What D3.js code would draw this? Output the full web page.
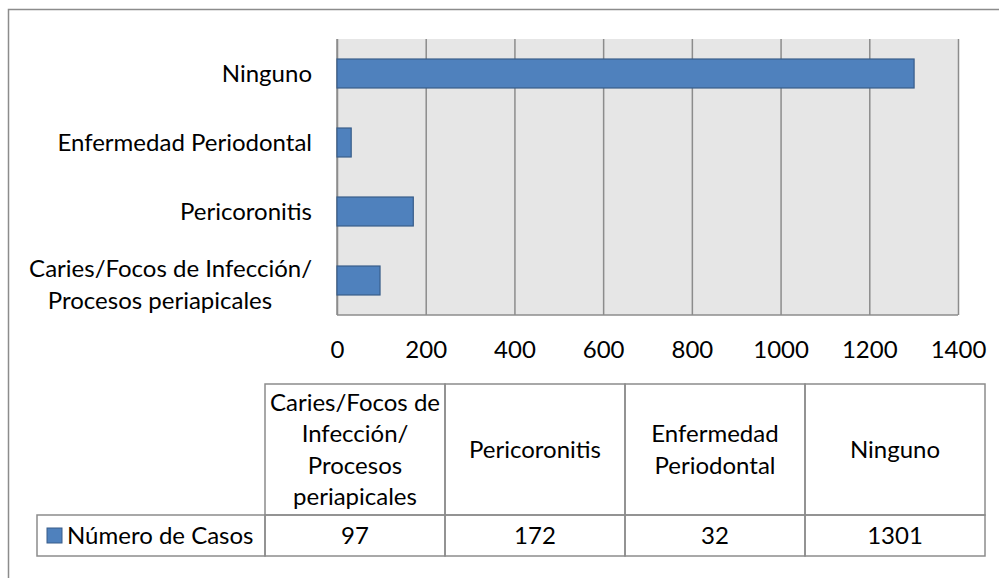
<!DOCTYPE html>
<html>
<head>
<meta charset="utf-8">
<title>Número de Casos</title>
<style type="text/css">
	body { margin: 0; background: #fff; }
	svg text { font-family: Lato, "Open Sans", sans-serif; font-size: 24px; fill: #000; }
	.grid line { stroke: #8c8c8c; stroke-width: 1.5px; }
	.grid path { display: none; }
	.x.axis path, .x.axis line { display: none; }
	.cell { fill: none; stroke: #8c8c8c; stroke-width: 1.5px; }
</style>
<script src="https://d3js.org/d3.v7.min.js"></script>
</head>
<body>
<script type="text/javascript">
	// data, bottom to top in the plot / left to right in the table
	var categories = ["Caries/Focos de Infección/ Procesos periapicales", "Pericoronitis", "Enfermedad Periodontal", "Ninguno"];
	var values = [97, 172, 32, 1301];
	var seriesName = "Número de Casos";
	var axisLabelLines = [["Caries/Focos de Infección/", "Procesos periapicales"], ["Pericoronitis"], ["Enfermedad Periodontal"], ["Ninguno"]];
	var tableLabelLines = [["Caries/Focos de", "Infección/", "Procesos", "periapicales"], ["Pericoronitis"], ["Enfermedad", "Periodontal"], ["Ninguno"]];
	var xTicks = [0, 200, 400, 600, 800, 1000, 1200, 1400];

	var svg = d3.select("body").append("svg")
		.attr("width", 999)
		.attr("height", 578);

	// outer chart border (only top/left fall inside the picture)
	svg.append("rect")
		.attr("x", 8.5).attr("y", 9.5)
		.attr("width", 1100).attr("height", 700)
		.attr("fill", "none")
		.attr("stroke", "#8c8c8c")
		.attr("stroke-width", 1.5);

	var plot = {left: 337, right: 958, top: 39, bottom: 315};

	var x = d3.scaleLinear().domain([0, 1400]).range([plot.left, plot.right]);
	var y = d3.scaleBand().domain(categories)
		.range([plot.bottom, plot.top])
		.paddingInner(0.58).paddingOuter(0.29);

	svg.append("rect")
		.attr("x", plot.left).attr("y", plot.top)
		.attr("width", plot.right - plot.left)
		.attr("height", plot.bottom - plot.top)
		.attr("fill", "#e6e6e6");

	// vertical gridlines
	svg.append("g")
		.attr("class", "grid")
		.attr("transform", "translate(0," + plot.bottom + ")")
		.call(d3.axisBottom(x).tickValues(xTicks).tickSize(-(plot.bottom - plot.top)).tickFormat(""));

	// axis lines
	svg.append("line")
		.attr("x1", plot.left).attr("x2", plot.right)
		.attr("y1", plot.bottom).attr("y2", plot.bottom)
		.attr("stroke", "#8c8c8c").attr("stroke-width", 1.5);
	svg.append("line")
		.attr("x1", plot.left).attr("x2", plot.left)
		.attr("y1", plot.top).attr("y2", plot.bottom)
		.attr("stroke", "#8c8c8c").attr("stroke-width", 1.5);

	// x tick labels
	var xAxis = svg.append("g")
		.attr("class", "x axis")
		.attr("transform", "translate(0," + plot.bottom + ")")
		.call(d3.axisBottom(x).tickValues(xTicks).tickSize(0).tickPadding(0).tickFormat(d3.format("d")));
	xAxis.selectAll("text")
		.attr("y", 35).attr("dy", "0.35em")
		.style("font-family", "Lato, 'Open Sans', sans-serif")
		.style("font-size", "24px")
		.attr("fill", "#000");

	// bars
	svg.selectAll(".bar")
		.data(categories)
		.enter().append("rect")
		.attr("class", "bar")
		.attr("x", x(0))
		.attr("y", function(d) { return y(d); })
		.attr("width", function(d, i) { return x(values[i]) - x(0); })
		.attr("height", y.bandwidth())
		.attr("fill", "#4f81bd")
		.attr("stroke", "#385d8a")
		.attr("stroke-width", 1.2);

	// category labels
	var lineH = 31.5;
	svg.selectAll(".ylabel")
		.data(categories)
		.enter().append("text")
		.attr("class", "ylabel")
		.each(function(d, i) {
			var lines = axisLabelLines[i];
			var cy = y(d) + y.bandwidth() / 2;
			var t = d3.select(this);
			lines.forEach(function(l, k) {
				t.append("tspan")
					.attr("x", k === 0 ? 312 : 160)
					.attr("text-anchor", k === 0 ? "end" : "middle")
					.attr("y", cy + (k - (lines.length - 1) / 2) * lineH + (lines.length > 1 ? 4 : 0))
					.attr("dy", "0.35em")
					.text(l);
			});
		});

	// data table
	var table = {left: 265, colW: 180, top: 384, mid: 515, bottom: 556, legendLeft: 37};
	var col = d3.scaleBand().domain(categories)
		.range([table.left, table.left + table.colW * categories.length]);

	var tg = svg.append("g");
	tg.selectAll(".hcell")
		.data(categories)
		.enter().append("rect")
		.attr("class", "cell")
		.attr("x", function(d) { return col(d); })
		.attr("y", table.top)
		.attr("width", col.bandwidth())
		.attr("height", table.mid - table.top);
	tg.selectAll(".vcell")
		.data(categories)
		.enter().append("rect")
		.attr("class", "cell")
		.attr("x", function(d) { return col(d); })
		.attr("y", table.mid)
		.attr("width", col.bandwidth())
		.attr("height", table.bottom - table.mid);
	tg.append("rect")
		.attr("class", "cell")
		.attr("x", table.legendLeft)
		.attr("y", table.mid)
		.attr("width", table.left - table.legendLeft)
		.attr("height", table.bottom - table.mid);

	tg.selectAll(".htext")
		.data(categories)
		.enter().append("text")
		.attr("text-anchor", "middle")
		.each(function(d, i) {
			var lines = tableLabelLines[i];
			var cx = col(d) + col.bandwidth() / 2;
			var cy = (table.top + table.mid) / 2;
			var t = d3.select(this);
			lines.forEach(function(l, k) {
				t.append("tspan")
					.attr("x", cx)
					.attr("y", cy + (k - (lines.length - 1) / 2) * lineH)
					.attr("dy", "0.35em")
					.text(l);
			});
		});

	tg.selectAll(".vtext")
		.data(categories)
		.enter().append("text")
		.attr("text-anchor", "middle")
		.attr("x", function(d) { return col(d) + col.bandwidth() / 2; })
		.attr("y", (table.mid + table.bottom) / 2)
		.attr("dy", "0.35em")
		.text(function(d, i) { return values[i]; });

	// legend key in the table
	tg.append("rect")
		.attr("x", 47).attr("y", 528)
		.attr("width", 15).attr("height", 15)
		.attr("fill", "#4f81bd")
		.attr("stroke", "#385d8a")
		.attr("stroke-width", 1);
	tg.append("text")
		.attr("x", 67)
		.attr("y", (table.mid + table.bottom) / 2)
		.attr("dy", "0.35em")
		.text(seriesName);
</script>
</body>
</html>
